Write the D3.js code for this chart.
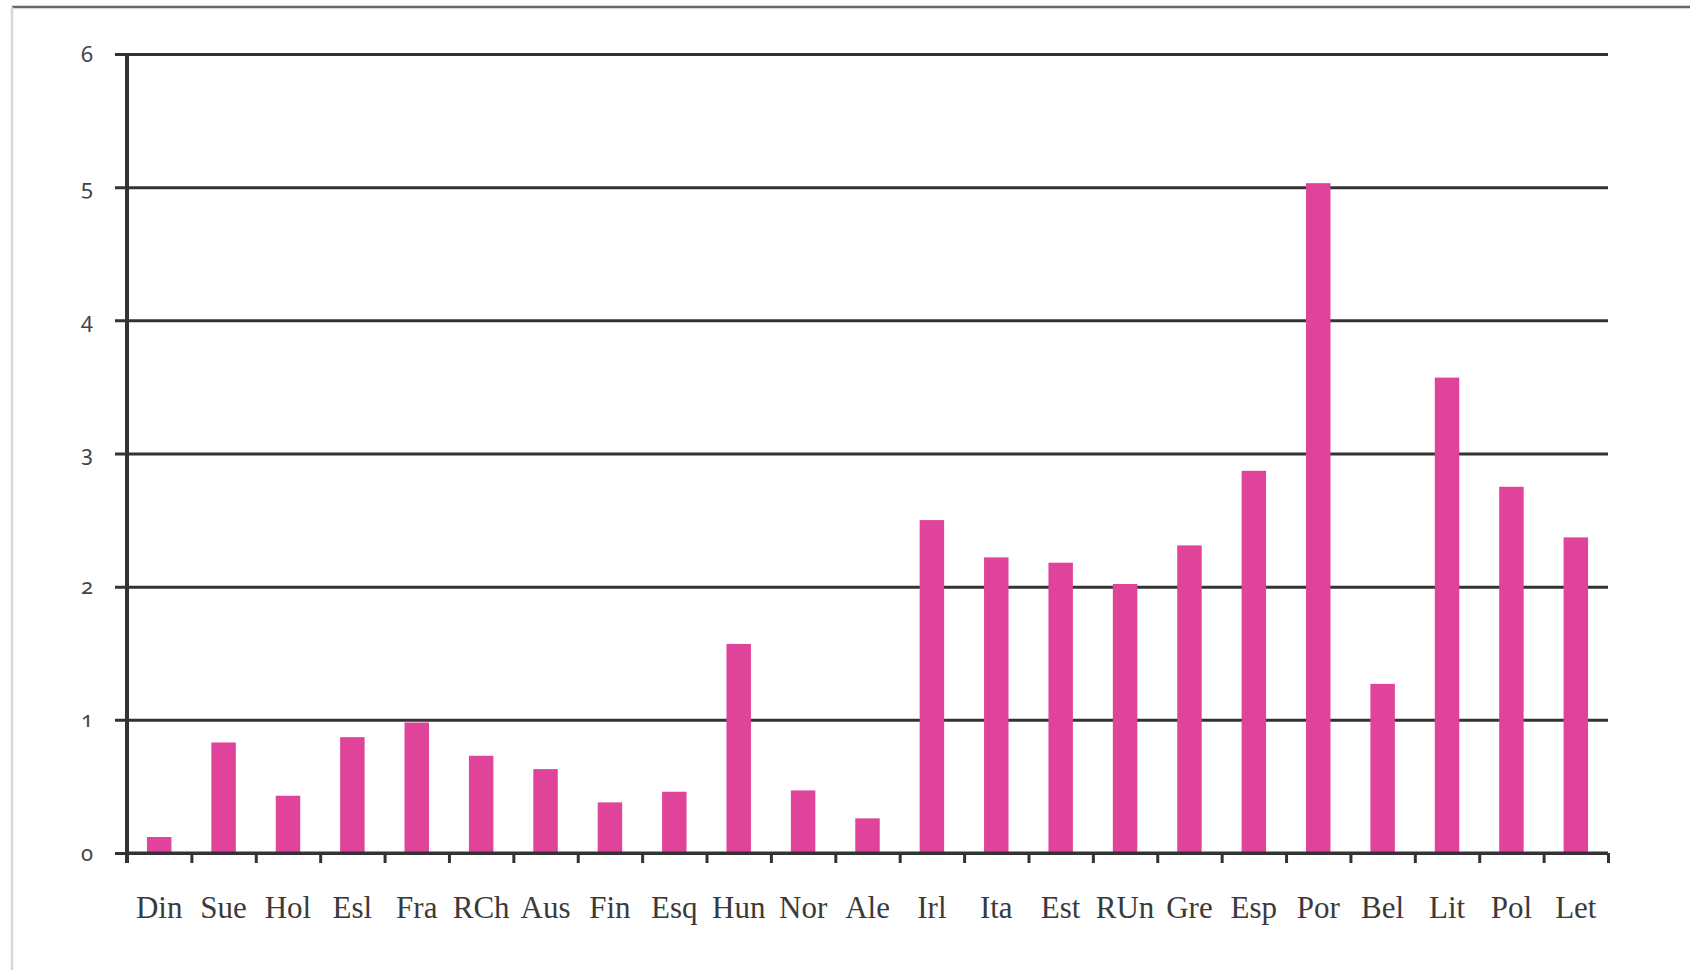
<!DOCTYPE html>
<html>
<head>
<meta charset="utf-8">
<script src="https://cdn.jsdelivr.net/npm/d3@7"></script>
<style>
  html, body { margin: 0; padding: 0; background: #fff; }
  svg { display: block; }
  .ylab text { font-family: "Noto Sans", sans-serif; font-size: 22px; fill: #444; font-variant-numeric: oldstyle-nums; }
  .xlab text { font-family: "Liberation Serif", serif; font-size: 31px; fill: #3a3a3a; }
</style>
</head>
<body>
<div id="chart"></div>
<script>
// --- Data ---
const categories = ["Din", "Sue", "Hol", "Esl", "Fra", "RCh", "Aus", "Fin", "Esq", "Hun", "Nor", "Ale",
                    "Irl", "Ita", "Est", "RUn", "Gre", "Esp", "Por", "Bel", "Lit", "Pol", "Let"];
const values = [0.12, 0.83, 0.43, 0.87, 0.98, 0.73, 0.63, 0.38, 0.46, 1.57, 0.47, 0.26,
                2.50, 2.22, 2.18, 2.02, 2.31, 2.87, 5.03, 1.27, 3.57, 2.75, 2.37];
const yTicks = [0, 1, 2, 3, 4, 5, 6];

const W = 1690, H = 970;
const plotLeft = 127, plotRight = 1608, plotTop = 54, plotBottom = 853;

const svg = d3.select("#chart").append("svg")
    .attr("width", W)
    .attr("height", H);

// frame lines of the original picture
svg.append("line")
    .attr("x1", 12).attr("x2", W).attr("y1", 7).attr("y2", 7)
    .style("stroke", "#666").style("stroke-width", 2.5);
svg.append("line")
    .attr("x1", 12).attr("x2", 12).attr("y1", 7).attr("y2", H)
    .style("stroke", "#d8d8d8").style("stroke-width", 2.5);

// --- Scales ---
const x = d3.scaleBand()
    .domain(categories)
    .range([plotLeft, plotRight])
    .paddingInner(0.62)
    .paddingOuter(0.31);

const xIdx = d3.scaleLinear()
    .domain([0, categories.length])
    .range([plotLeft, plotRight]);

const y = d3.scaleLinear()
    .domain([0, 6])
    .range([plotBottom, plotTop]);

// --- Gridlines (start a bit left of the axis, like tick marks) ---
const grid = svg.append("g")
    .attr("transform", `translate(115,0)`)
    .call(d3.axisLeft(y).tickValues(yTicks).tickSize(-(plotRight - 115)).tickFormat(""));
grid.select(".domain").remove();
grid.selectAll(".tick line").style("stroke", "#333").style("stroke-width", 3);

// --- Y labels ---
const ylab = svg.append("g")
    .attr("class", "ylab")
    .attr("transform", `translate(93,0)`)
    .call(d3.axisLeft(y).tickValues(yTicks).tickFormat(d3.format("d")).tickSize(0).tickPadding(0));
ylab.select(".domain").remove();

// --- Bars ---
svg.append("g").selectAll("rect")
    .data(values)
    .enter().append("rect")
    .attr("x", (d, i) => x(categories[i]))
    .attr("y", d => y(d))
    .attr("width", x.bandwidth())
    .attr("height", d => y(0) - y(d))
    .attr("fill", "#e0449a");

// --- X axis ticks at band boundaries ---
const xt = svg.append("g")
    .attr("transform", `translate(0,${plotBottom})`)
    .call(d3.axisBottom(xIdx).tickValues(d3.range(categories.length + 1)).tickSize(10).tickFormat(""));
xt.select(".domain").attr("d", `M${plotLeft},0H${plotRight}`).style("stroke", "#333").style("stroke-width", 3);
xt.selectAll(".tick line").style("stroke", "#333").style("stroke-width", 3);

// --- X labels ---
const xlab = svg.append("g")
    .attr("class", "xlab")
    .attr("transform", `translate(0,${plotBottom})`)
    .call(d3.axisBottom(x).tickSize(0));
xlab.select(".domain").remove();
xlab.selectAll(".tick text").attr("y", 65).attr("dy", 0);

// --- Y axis line ---
svg.append("line")
    .attr("x1", plotLeft).attr("x2", plotLeft)
    .attr("y1", y(6)).attr("y2", y(0) + 10)
    .style("stroke", "#333").style("stroke-width", 4);
</script>
</body>
</html>
